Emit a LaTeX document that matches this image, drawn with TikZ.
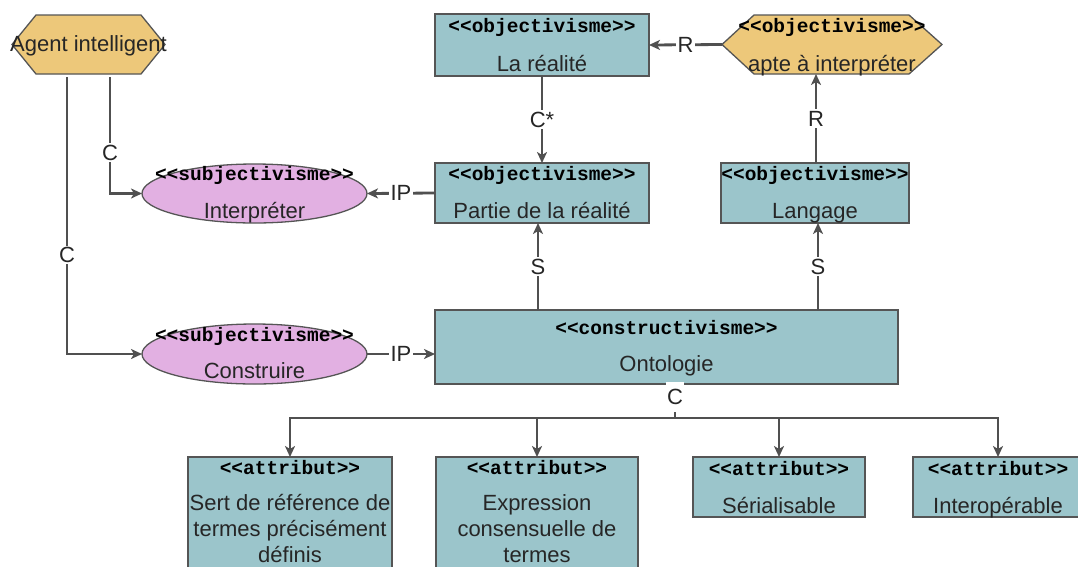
\documentclass[tikz,border=0pt]{standalone}
\usepackage{fontspec}
\setmainfont{Liberation Sans}
\newfontfamily\stereofont{Liberation Mono}
\usetikzlibrary{arrows.meta,shapes.geometric}

\definecolor{boxfill}{HTML}{9BC5CB}
\definecolor{hexfill}{HTML}{EDC87A}
\definecolor{ovalfill}{HTML}{E2B0E2}
\definecolor{edgegray}{HTML}{555555}
\definecolor{wiregray}{HTML}{505050}
\definecolor{textgray}{HTML}{262626}

\tikzset{
  every node/.style={inner sep=0pt, outer sep=0pt},
  classbox/.style={rectangle, draw=edgegray, line width=1.3pt, fill=boxfill},
  hexbox/.style={rectangle, minimum height=59pt},
  hexshape/.style={draw=edgegray, line width=1.3pt, fill=hexfill},
  oval/.style={ellipse, draw=edgegray, line width=1.3pt, fill=ovalfill},
  stereo/.style={font={\stereofont\bfseries\fontsize{19.5}{22}\selectfont}, anchor=base, text=black},
  ntext/.style={font={\fontsize{22}{26}\selectfont}, anchor=base, text=textgray},
  lbl/.style={fill=white, font={\fontsize{22}{24}\selectfont}, inner sep=1.5pt, text=textgray},
  wire/.style={draw=wiregray, line width=2.8pt},
  link/.style={wire, -{Stealth[length=11pt,width=10pt,inset=3pt]}},
}

\begin{document}
\begin{tikzpicture}[x=1pt, y=-1pt]
  \useasboundingbox (0,0) rectangle (1078,566);
  \fill[white] (0,0) rectangle (1078,566);
  \clip (0,0) rectangle (1078,566);

  % ---- class boxes ----
  \node[classbox, minimum width=214pt, minimum height=62pt] (real)   at (542,45)    {};
  \node[classbox, minimum width=214pt, minimum height=60pt] (partie) at (542,193)   {};
  \node[classbox, minimum width=188pt, minimum height=60pt] (lang)   at (815,193)   {};
  \node[classbox, minimum width=463pt, minimum height=74pt] (onto)   at (666.5,347) {};
  \node[classbox, minimum width=204pt, minimum height=133pt] (a1)    at (290,523.5) {};
  \node[classbox, minimum width=202pt, minimum height=133pt] (a2)    at (537,523.5) {};
  \node[classbox, minimum width=172pt, minimum height=60pt] (a3)     at (779,487)   {};
  \node[classbox, minimum width=170pt, minimum height=60pt] (a4)     at (998,487)   {};

  % ---- hexagonal actors ----
  \node[hexbox, minimum width=153pt] (agent) at (88.5,44.5) {};
  \node[hexbox, minimum width=220pt] (apte)  at (832,44.5)  {};
  \path[hexshape] (agent.west) -- ([xshift=24pt]agent.north west) -- ([xshift=-24pt]agent.north east)
    -- (agent.east) -- ([xshift=-24pt]agent.south east) -- ([xshift=24pt]agent.south west) -- cycle;
  \path[hexshape] (apte.west) -- ([xshift=32pt]apte.north west) -- ([xshift=-33pt]apte.north east)
    -- (apte.east) -- ([xshift=-33pt]apte.south east) -- ([xshift=32pt]apte.south west) -- cycle;

  % ---- processes ----
  \node[oval, minimum width=225pt, minimum height=59pt] (interp) at (254.5,193.5) {};
  \node[oval, minimum width=225pt, minimum height=60pt] (constr) at (254.5,354)   {};

  % ---- texts ----
  \node[ntext] (agent-t) at (88.5,51) {Agent intelligent};
  \node[stereo] (real-s) at (542,32) {<<objectivisme>>};
  \node[ntext]  (real-t) at (542,71) {La réalité};
  \node[stereo] (apte-s) at (832,32) {<<objectivisme>>};
  \node[ntext]  (apte-t) at (832,71) {apte à interpréter};
  \node[stereo] (partie-s) at (542,180) {<<objectivisme>>};
  \node[ntext]  (partie-t) at (542,218) {Partie de la réalité};
  \node[stereo] (lang-s) at (815,180) {<<objectivisme>>};
  \node[ntext]  (lang-t) at (815,218) {Langage};
  \node[stereo] (interp-s) at (254.5,180) {<<subjectivisme>>};
  \node[ntext]  (interp-t) at (254.5,218) {Interpréter};
  \node[stereo] (constr-s) at (254.5,341) {<<subjectivisme>>};
  \node[ntext]  (constr-t) at (254.5,378) {Construire};
  \node[stereo] (onto-s) at (666.5,334) {<<constructivisme>>};
  \node[ntext]  (onto-t) at (666.5,371) {Ontologie};
  \node[stereo] (a1-s) at (290,474) {<<attribut>>};
  \node[ntext]  (a1-t1) at (290,510) {Sert de référence de};
  \node[ntext]  (a1-t2) at (290,536) {termes précisément};
  \node[ntext]  (a1-t3) at (290,562) {définis};
  \node[stereo] (a2-s) at (537,474) {<<attribut>>};
  \node[ntext]  (a2-t1) at (537,510) {Expression};
  \node[ntext]  (a2-t2) at (537,536) {consensuelle de};
  \node[ntext]  (a2-t3) at (537,562) {termes};
  \node[stereo] (a3-s) at (779,475) {<<attribut>>};
  \node[ntext]  (a3-t) at (779,513) {Sérialisable};
  \node[stereo] (a4-s) at (998,475) {<<attribut>>};
  \node[ntext]  (a4-t) at (998,513) {Interopérable};

  % ---- relations ----
  \draw[link] (apte.west) -- node[lbl] {R} (real.east);
  \draw[link] (real.south) -- node[lbl] {C*} (partie.north);
  \draw[link] (816,0 |- lang.north) -- node[lbl] {R} (816,0 |- apte.south);
  \draw[link] (partie.west) -- node[lbl] {IP} (interp.east);
  \draw[link] (constr.east) -- node[lbl] {IP} (constr.east -| onto.west);
  \draw[link] (538,0 |- onto.north) -- node[lbl] {S} (538,0 |- partie.south);
  \draw[link] (818,0 |- onto.north) -- node[lbl] {S} (818,0 |- lang.south);

  \coordinate (agentC) at (110,77);
  \coordinate (agentL) at (67,77);
  \draw[link] (agentC) -- node[lbl, pos=0.65] {C} (agentC |- interp.west) -- (interp.west);
  \draw[link] (agentL) -- node[lbl, pos=0.643] {C} (agentL |- constr.west) -- (constr.west);

  % ---- composition bus below the ontology ----
  \coordinate (bus) at (675,418);
  \draw[wire] (675,0 |- onto.south) -- (bus);
  \node[lbl, minimum height=30pt] (busC) at (675,397) {C};
  \draw[link] (bus) -| (a1.north);
  \draw[link] (bus) -| (a4.north);
  \draw[link] (a2.north |- bus) -- (a2.north);
  \draw[link] (a3.north |- bus) -- (a3.north);
\end{tikzpicture}
\end{document}
